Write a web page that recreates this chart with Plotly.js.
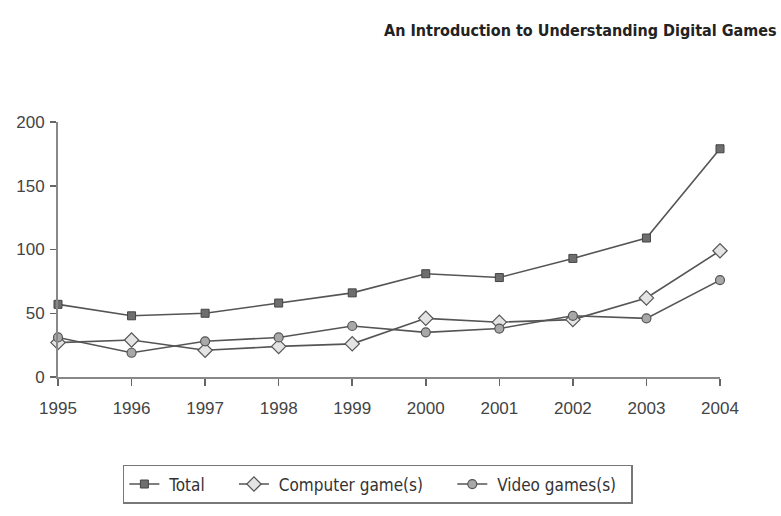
<!DOCTYPE html>
<html>
<head>
<meta charset="utf-8">
<script src="https://cdn.plot.ly/plotly-3.0.1.min.js"></script>
<style>html,body{margin:0;padding:0;background:#fff;}#chart{width:781px;height:516px;}</style>
</head>
<body>
<div id="chart"></div>
<script>
const years = [1995, 1996, 1997, 1998, 1999, 2000, 2001, 2002, 2003, 2004];
const total = [57, 48, 50, 58, 66, 81, 78, 93, 109, 179];
const computerGames = [27, 29, 21, 24, 26, 46, 43, 45, 62, 99];
const videoGames = [31, 19, 28, 31, 40, 35, 38, 48, 46, 76];
const seriesNames = ['Total', 'Computer game(s)', 'Video games(s)'];
const yTicks = [0, 50, 100, 150, 200];
const chartTitle = 'An Introduction to Understanding Digital Games';

const pad = n => '\u00a0'.repeat(n);
const lineStyle = {color: '#555555', width: 1.6};
const traces = [
  {x: years, y: total, name: pad(1) + seriesNames[0] + pad(5), mode: 'lines+markers', line: lineStyle, cliponaxis: false,
   marker: {symbol: 'square', size: 8, color: '#6e6e6e', line: {color: '#444', width: 1}}},
  {x: years, y: computerGames, name: pad(1) + seriesNames[1] + pad(5), mode: 'lines+markers', line: lineStyle, cliponaxis: false,
   marker: {symbol: 'diamond', size: 11, color: '#e4e4e4', line: {color: '#555', width: 1.2}}},
  {x: years, y: videoGames, name: pad(1) + seriesNames[2] + pad(2), mode: 'lines+markers', line: lineStyle, cliponaxis: false,
   marker: {symbol: 'circle', size: 9, color: '#a8a8a8', line: {color: '#555', width: 1.2}}}
];

const layout = {
  width: 781, height: 516,
  margin: {l: 58, r: 61, t: 122, b: 139},
  paper_bgcolor: '#fff', plot_bgcolor: '#fff',
  font: {family: 'Liberation Sans, Arial, sans-serif', size: 17, color: '#444'},
  annotations: [{
    text: '<b>' + chartTitle + '</b>',
    font: {family: 'DejaVu Sans Condensed, Liberation Sans Narrow, sans-serif', size: 16, color: '#222'},
    xref: 'paper', x: 1.089, xanchor: 'right', yref: 'paper', y: 1.36, yanchor: 'middle',
    showarrow: false
  }],
  xaxis: {
    range: [1995, 2004], tickvals: years, ticktext: years.map(String),
    showgrid: false, zeroline: false, showline: true, linecolor: '#888', linewidth: 2,
    ticks: 'outside', ticklen: 7, tickcolor: '#666', tickwidth: 1.5, ticklabelstandoff: 8,
    fixedrange: true
  },
  yaxis: {
    range: [0, 200], tickvals: yTicks,
    showgrid: false, zeroline: false, showline: true, linecolor: '#888', linewidth: 2,
    ticks: 'outside', ticklen: 6, tickcolor: '#666', tickwidth: 1.5, ticklabelstandoff: 2,
    fixedrange: true
  },
  showlegend: true,
  legend: {
    orientation: 'h', x: 0.098, xanchor: 'left', y: -0.345, yanchor: 'top',
    bordercolor: '#777', borderwidth: 1.5, bgcolor: '#fff',
    font: {family: 'DejaVu Sans Condensed, Liberation Sans Narrow, sans-serif', size: 17, color: '#333'},
    tracegroupgap: 0
  }
};

Plotly.newPlot('chart', traces, layout, {displayModeBar: false, staticPlot: true});
</script>
</body>
</html>
